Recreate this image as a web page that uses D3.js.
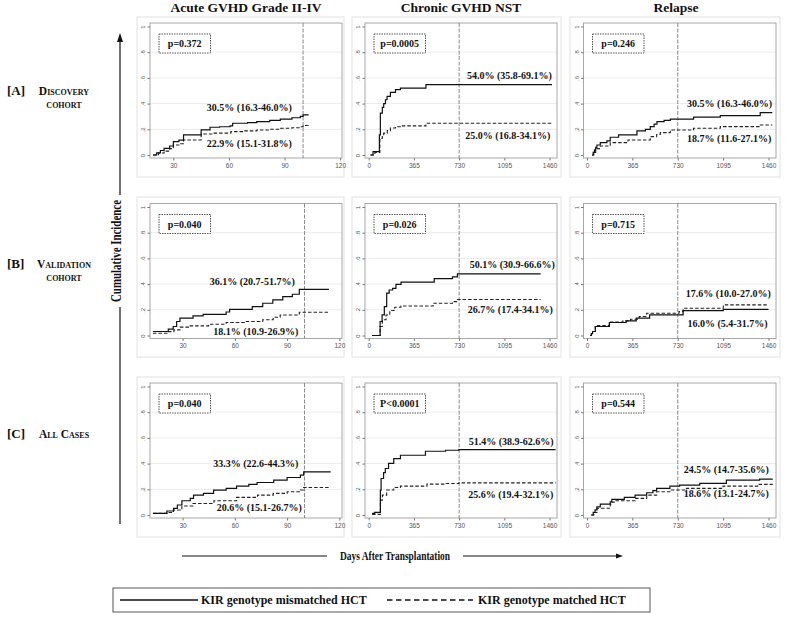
<!DOCTYPE html>
<html><head><meta charset="utf-8">
<script src="https://cdn.jsdelivr.net/npm/d3@7"></script>
<style>body{margin:0;background:#fff}svg{display:block}</style>
</head><body><svg id="c" width="798" height="622"></svg>
<script>
// ---------------- DATA ----------------
const colTitles = ["Acute GVHD Grade II-IV", "Chronic GVHD NST", "Relapse"];
const rowTags = ["[A]", "[B]", "[C]"];
const rowNames = [["Discovery", "cohort"], ["Validation", "cohort"], ["All Cases"]];
const yTicks = [0, 0.2, 0.4, 0.6, 0.8, 1];
const yTickLabels = ["0", ".2", ".4", ".6", ".8", "1"];
const xTicksAcute = [30, 60, 90, 120];
const xTicksDays = [0, 365, 730, 1095, 1460];
const refDays = [100, 730, 730];
const seriesNames = ["KIR genotype mismatched HCT", "KIR genotype matched HCT"];
const pValues = [["p=0.372", "p=0.0005", "p=0.246"], ["p=0.040", "p=0.026", "p=0.715"], ["p=0.040", "P<0.0001", "p=0.544"]];
const upperLabels = [["30.5% (16.3-46.0%)", "54.0% (35.8-69.1%)", "30.5% (16.3-46.0%)"],
                     ["36.1% (20.7-51.7%)", "50.1% (30.9-66.6%)", "17.6% (10.0-27.0%)"],
                     ["33.3% (22.6-44.3%)", "51.4% (38.9-62.6%)", "24.5% (14.7-35.6%)"]];
const lowerLabels = [["22.9% (15.1-31.8%)", "25.0% (16.8-34.1%)", "18.7% (11.6-27.1%)"],
                     ["18.1% (10.9-26.9%)", "26.7% (17.4-34.1%)", "16.0% (5.4-31.7%)"],
                     ["20.6% (15.1-26.7%)", "25.6% (19.4-32.1%)", "18.6% (13.1-24.7%)"]];

// [day, cumulative incidence]
const acuteDiscMis = [[19,0],[21,0.017],[23,0.035],[25,0.052],[28,0.07],[30,0.104],[33,0.115],[35.5,0.156],[43,0.156],[45,0.195],[49.8,0.216],[55,0.22],[60.6,0.227],[62,0.247],[70,0.252],[75,0.26],[82,0.27],[87.7,0.279],[94,0.29],[98.5,0.3],[100,0.313],[103,0.313]];
const acuteDiscMat = [[19,0],[22,0.015],[25,0.03],[28,0.05],[30,0.078],[33,0.088],[35.5,0.117],[43,0.117],[45,0.164],[52,0.17],[61,0.182],[68,0.188],[75,0.195],[82,0.2],[88,0.208],[94,0.212],[98.5,0.22],[100,0.229],[103,0.229]];
const chronicDiscMis = [[14,0],[35,0.026],[82,0.026],[86,0.156],[94,0.326],[110,0.37],[121,0.4],[135,0.43],[148,0.456],[175,0.487],[216,0.508],[256,0.521],[455,0.521],[462,0.547],[1480,0.547]];
const chronicDiscMat = [[14,0],[50,0.02],[86,0.02],[90,0.13],[110,0.15],[121,0.17],[150,0.19],[175,0.21],[216,0.22],[256,0.227],[455,0.227],[462,0.247],[1480,0.247]];
const relapseDiscMis = [[40,0],[50,0.02],[60,0.04],[70,0.06],[80,0.078],[107,0.096],[160,0.11],[187,0.138],[254,0.156],[402,0.188],[470,0.2],[509,0.221],[540,0.24],[563,0.26],[620,0.27],[670,0.279],[857,0.295],[1072,0.307],[1393,0.33],[1490,0.33]];
const relapseDiscMat = [[40,0],[55,0.02],[70,0.04],[80,0.05],[107,0.07],[187,0.096],[330,0.117],[509,0.143],[560,0.16],[589,0.174],[670,0.195],[857,0.208],[1072,0.221],[1393,0.234],[1490,0.234]];
const acuteValMis = [[13,0.031],[21.8,0.05],[24.6,0.07],[26.6,0.109],[28.5,0.135],[36,0.152],[41.8,0.165],[55,0.183],[57,0.204],[70,0.225],[76,0.251],[81.8,0.277],[87.5,0.303],[93,0.321],[97,0.359],[114,0.359]];
const acuteValMat = [[13,0.018],[22,0.03],[25,0.044],[28.5,0.065],[34,0.075],[45,0.088],[55,0.101],[66,0.109],[76,0.122],[82,0.142],[86,0.16],[97,0.181],[114,0.181]];
const chronicValMis = [[27,0],[92,0],[92,0.109],[108,0.16],[126,0.225],[145,0.329],[165,0.354],[193,0.367],[220,0.398],[261,0.416],[520,0.416],[529,0.442],[676,0.457],[716,0.48],[1388,0.48]];
const chronicValMat = [[27,0],[92,0],[92,0.07],[110,0.122],[140,0.16],[170,0.194],[210,0.22],[260,0.23],[500,0.23],[520,0.251],[676,0.264],[716,0.28],[1388,0.28]];
const relapseValMis = [[27,0],[35,0.015],[45,0.031],[67,0.07],[180,0.101],[315,0.114],[396,0.135],[504,0.16],[773,0.194],[1096,0.203],[1460,0.203]];
const relapseValMat = [[27,0],[35,0.015],[45,0.031],[67,0.078],[180,0.105],[290,0.114],[350,0.127],[420,0.148],[480,0.173],[740,0.186],[773,0.212],[1096,0.238],[1460,0.238]];
const acuteAllMis = [[13,0.013],[19,0.013],[21,0.031],[24.8,0.052],[27,0.078],[29.6,0.111],[34.4,0.129],[36.3,0.155],[42,0.168],[47.8,0.194],[55,0.207],[61,0.225],[68,0.238],[72.8,0.253],[82.3,0.271],[90,0.292],[97.6,0.31],[99.5,0.336],[115,0.336]];
const acuteAllMat = [[13,0.013],[21,0.02],[24.8,0.039],[29.6,0.07],[36,0.09],[48,0.111],[61,0.137],[73,0.155],[82,0.168],[90,0.181],[97.6,0.194],[99.5,0.214],[115,0.214]];
const chronicAllMis = [[27,0.013],[48,0.02],[92,0.02],[94,0.194],[100,0.284],[120,0.33],[134,0.362],[160,0.401],[202,0.439],[256,0.465],[445,0.465],[458,0.496],[620,0.504],[728,0.509],[1509,0.509]];
const chronicAllMat = [[27,0.005],[92,0.005],[94,0.116],[110,0.155],[145,0.194],[202,0.214],[256,0.225],[440,0.225],[470,0.24],[620,0.245],[728,0.25],[1509,0.25]];
const relapseAllMis = [[34,0],[50,0.02],[65,0.04],[80,0.064],[107,0.085],[187,0.103],[200,0.121],[300,0.137],[387,0.155],[480,0.173],[530,0.19],[560,0.207],[667,0.225],[745,0.233],[907,0.246],[1121,0.271],[1388,0.279],[1494,0.279]];
const relapseAllMat = [[34,0],[55,0.02],[80,0.052],[187,0.085],[200,0.1],[220,0.111],[387,0.129],[480,0.155],[560,0.181],[667,0.194],[800,0.207],[1094,0.225],[1380,0.238],[1494,0.238]];

const misSeries = [[acuteDiscMis, chronicDiscMis, relapseDiscMis], [acuteValMis, chronicValMis, relapseValMis], [acuteAllMis, chronicAllMis, relapseAllMis]];
const matSeries = [[acuteDiscMat, chronicDiscMat, relapseDiscMat], [acuteValMat, chronicValMat, relapseValMat], [acuteAllMat, chronicAllMat, relapseAllMat]];

// ---------------- LAYOUT ----------------
const serif = "'Liberation Serif','Times New Roman',serif";
const sans = "'Liberation Sans',Arial,sans-serif";
const outerX = [[137, 344], [352, 561], [570, 780]];
const outerY = [[17, 177], [197, 357], [377, 537]];
const plotX = [[150, 342], [365, 557], [583.5, 776]];
const plotTop = [23, 203.5, 383];
const plotH = 135;
const xDomains = [[[17.4, 121], [-30, 1520], [-28, 1520]],
                  [[11.3, 121.5], [-30, 1520], [-28, 1520]],
                  [[11.3, 121.5], [-30, 1520], [-28, 1520]]];
// annotation anchors in data units [day, value]
const upperPos = [[[71, 0.366], [1136, 0.615], [1146, 0.402]], [[70, 0.419], [1159, 0.556], [1136, 0.329]], [[72, 0.401], [1150, 0.574], [1120, 0.354]]];
const lowerPos = [[[71, 0.086], [1123, 0.15], [1144, 0.125]], [[72, 0.031], [1143, 0.205], [1130, 0.096]], [[74, 0.06], [1147, 0.16], [1120, 0.168]]];

const svg = d3.select("#c");
svg.append("rect").attr("width", 798).attr("height", 622).attr("fill", "#fff");

for (let r = 0; r < 3; r++) {
  for (let c = 0; c < 3; c++) {
    const g = svg.append("g");
    g.append("rect").attr("x", outerX[c][0]).attr("y", outerY[r][0])
      .attr("width", outerX[c][1] - outerX[c][0]).attr("height", outerY[r][1] - outerY[r][0])
      .attr("fill", "#fff").attr("stroke", "#e2e2e2").attr("stroke-width", 1);
    const top = plotTop[r];
    const [pl, pr] = plotX[c];
    const x = d3.scaleLinear().domain(xDomains[r][c]).range([pl, pr]);
    const y = d3.scaleLinear().domain([0, 1]).range([top + 132, top + 3.5]);

    g.selectAll(".grid").data(yTicks.slice(1, 5)).join("line")
      .attr("x1", pl).attr("x2", pr).attr("y1", d => y(d)).attr("y2", d => y(d))
      .attr("stroke", "#ececec").attr("stroke-width", 1);

    g.append("rect").attr("x", pl).attr("y", top).attr("width", pr - pl).attr("height", plotH)
      .attr("fill", "none").attr("stroke", "#a8a8a8").attr("stroke-width", 1);

    g.append("line").attr("x1", x(refDays[c])).attr("x2", x(refDays[c]))
      .attr("y1", top).attr("y2", top + plotH)
      .attr("stroke", "#8a8a8a").attr("stroke-width", 1).attr("stroke-dasharray", "4,1.5");

    const ya = g.append("g").attr("transform", `translate(${pl},0)`)
      .call(d3.axisLeft(y).tickValues(yTicks).tickFormat((d, i) => yTickLabels[i]).tickSize(2.5));
    ya.select(".domain").remove();
    ya.selectAll("line").attr("stroke", "#777");
    ya.selectAll("text").attr("transform", "rotate(-90)").attr("x", 0).attr("y", -5).attr("dy", "0")
      .style("text-anchor", "middle").attr("fill", "#555").style("font-family", sans).style("font-size", "6px");

    const xa = g.append("g").attr("transform", `translate(0,${top + plotH})`)
      .call(d3.axisBottom(x).tickValues(c === 0 ? xTicksAcute : xTicksDays).tickFormat(d3.format("d")).tickSize(2.5));
    xa.select(".domain").remove();
    xa.selectAll("line").attr("stroke", "#777");
    xa.selectAll("text").attr("y", 5).attr("fill", "#555").style("font-family", sans).style("font-size", "6.5px");

    const line = d3.line().x(d => x(d[0])).y(d => y(d[1])).curve(d3.curveStepAfter);
    g.append("path").datum(matSeries[r][c]).attr("d", line).attr("fill", "none")
      .attr("stroke", "#222").attr("stroke-width", 1.1).attr("stroke-dasharray", "3.5,2");
    g.append("path").datum(misSeries[r][c]).attr("d", line).attr("fill", "none")
      .attr("stroke", "#111").attr("stroke-width", 1.2);

    // p-value box
    const bx = pl + 9, by = top + 11;
    g.append("rect").attr("x", bx).attr("y", by).attr("width", 51.5).attr("height", 19)
      .attr("fill", "#fff").attr("stroke", "#444").attr("stroke-width", 0.9).attr("stroke-dasharray", "1.5,1");
    g.append("text").attr("x", bx + 25.75).attr("y", by + 9.5).attr("dy", "0.35em")
      .attr("text-anchor", "middle").style("font-family", serif).style("font-weight", "bold")
      .style("font-size", "10px").attr("fill", "#111").text(pValues[r][c]);

    g.append("text").attr("x", x(upperPos[r][c][0])).attr("y", y(upperPos[r][c][1])).attr("dy", "0.35em")
      .attr("text-anchor", "middle").style("font-family", serif).style("font-weight", "bold")
      .style("font-size", "10px").attr("fill", "#111").text(upperLabels[r][c]);
    g.append("text").attr("x", x(lowerPos[r][c][0])).attr("y", y(lowerPos[r][c][1])).attr("dy", "0.35em")
      .attr("text-anchor", "middle").style("font-family", serif).style("font-weight", "bold")
      .style("font-size", "10px").attr("fill", "#111").text(lowerLabels[r][c]);
  }
}

// column titles
const titleX = [246, 461, 676];
colTitles.forEach((t, i) => {
  svg.append("text").attr("x", titleX[i]).attr("y", 12).attr("text-anchor", "middle")
    .style("font-family", serif).style("font-weight", "bold").style("font-size", "13.5px")
    .attr("fill", "#111").text(t);
});

// row labels
const rowY = [95, 268, 438];
rowTags.forEach((t, i) => {
  svg.append("text").attr("x", 7).attr("y", rowY[i]).style("font-family", serif)
    .style("font-weight", "bold").style("font-size", "13px").attr("fill", "#111").text(t);
  svg.append("text").attr("x", 64).attr("y", rowY[i]).attr("text-anchor", "middle")
    .style("font-family", serif).style("font-weight", "bold").style("font-size", "11.5px")
    .style("font-variant", "small-caps").attr("fill", "#111").text(rowNames[i][0]);
  if (rowNames[i][1]) {
    svg.append("text").attr("x", 64).attr("y", rowY[i] + 13).attr("text-anchor", "middle")
      .style("font-family", serif).style("font-weight", "bold").style("font-size", "11px")
      .style("font-variant", "small-caps").attr("fill", "#111").text(rowNames[i][1]);
  }
});

// y axis label with arrow
svg.append("line").attr("x1", 120).attr("x2", 120).attr("y1", 40).attr("y2", 195).attr("stroke", "#111").attr("stroke-width", 1.2);
svg.append("line").attr("x1", 120).attr("x2", 120).attr("y1", 307).attr("y2", 524).attr("stroke", "#111").attr("stroke-width", 1.2);
svg.append("path").attr("d", "M120,33 L117,42 L123,42 Z").attr("fill", "#111");
svg.append("text").attr("transform", "translate(121,251) rotate(-90)").attr("text-anchor", "middle")
  .attr("textLength", 102).attr("lengthAdjust", "spacingAndGlyphs")
  .style("font-family", serif).style("font-weight", "bold").style("font-size", "14px")
  .attr("fill", "#111").text("Cumulative Incidence");

// x axis label with arrow
svg.append("line").attr("x1", 182).attr("x2", 327).attr("y1", 556).attr("y2", 556).attr("stroke", "#111").attr("stroke-width", 1);
svg.append("line").attr("x1", 463).attr("x2", 618).attr("y1", 556).attr("y2", 556).attr("stroke", "#111").attr("stroke-width", 1);
svg.append("path").attr("d", "M623,556 L616,553.5 L616,558.5 Z").attr("fill", "#111");
svg.append("text").attr("x", 395).attr("y", 556).attr("dy", "0.35em").attr("text-anchor", "middle")
  .attr("textLength", 110).attr("lengthAdjust", "spacingAndGlyphs")
  .style("font-family", serif).style("font-weight", "bold").style("font-size", "12px")
  .attr("fill", "#111").text("Days After Transplantation");

// legend
svg.append("rect").attr("x", 113).attr("y", 588).attr("width", 537).attr("height", 24)
  .attr("fill", "#fff").attr("stroke", "#555").attr("stroke-width", 1);
svg.append("line").attr("x1", 120).attr("x2", 198).attr("y1", 600).attr("y2", 600).attr("stroke", "#111").attr("stroke-width", 1.3);
svg.append("text").attr("x", 201).attr("y", 600).attr("dy", "0.35em").style("font-family", serif)
  .style("font-weight", "bold").style("font-size", "12px").attr("fill", "#111").text(seriesNames[0]);
svg.append("line").attr("x1", 387).attr("x2", 473).attr("y1", 600).attr("y2", 600).attr("stroke", "#111")
  .attr("stroke-width", 1.3).attr("stroke-dasharray", "5.5,3.5");
svg.append("text").attr("x", 478).attr("y", 600).attr("dy", "0.35em").style("font-family", serif)
  .style("font-weight", "bold").style("font-size", "12px").attr("fill", "#111").text(seriesNames[1]);
</script></body></html>
